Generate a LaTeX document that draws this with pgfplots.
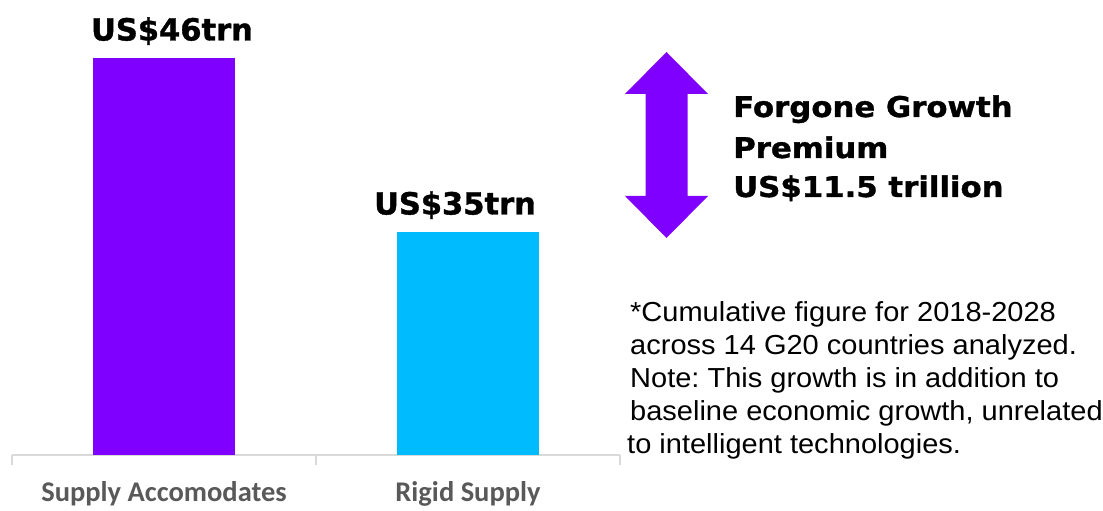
\documentclass[border=0pt]{standalone}
\usepackage{fontspec}
\usepackage{pgfplots}
\pgfplotsset{compat=1.18}
\setmainfont{Liberation Sans}
\newfontfamily\notefont{Liberation Sans}[FakeStretch=1.055]
\newfontfamily\carlito{Carlito}
\newfontfamily\blk{DejaVu Sans}[FakeBold=1.2]
\newfontfamily\blkwide{DejaVu Sans}[FakeStretch=1.08, FakeBold=1.2]
\definecolor{barpurple}{HTML}{7F00FF}
\definecolor{barblue}{HTML}{00BCFF}
\definecolor{axgray}{HTML}{D9D9D9}
\definecolor{lblgray}{HTML}{595959}
\frenchspacing
\begin{document}
\begin{tikzpicture}
\useasboundingbox (0,0) rectangle (1103bp,511bp);
\begin{axis}[
  at={(12bp,56bp)}, anchor=south west,
  scale only axis, width=608bp, height=397bp,
  xmin=-0.5, xmax=1.5, ymin=20.9, ymax=46,
  axis x line=bottom, axis y line=none,
  axis line style={-, axgray, line width=2bp},
  xtick={0,1}, xticklabels={Supply Accomodates, Rigid Supply},
  minor xtick={-0.5,0.5,1.5},
  major tick length=0pt, minor tick length=10bp, tick align=outside,
  minor tick style={axgray, line width=2bp},
  xticklabel style={font=\carlito\bfseries\fontsize{28.5bp}{30bp}\selectfont, text=lblgray, anchor=base, yshift=-46bp},
  ybar, bar width=142bp, bar shift=0pt,
  nodes near coords, point meta=explicit symbolic,
  nodes near coords style={font=\blk\bfseries\fontsize{30.5bp}{33bp}\selectfont, anchor=base, yshift=17.5bp, inner sep=0pt, text=black},
]
\addplot[fill=barpurple, draw=none, nodes near coords style={xshift=8bp}] coordinates {(0,46) [US\$46trn]};
\addplot[fill=barblue, draw=none, nodes near coords style={xshift=-13bp}] coordinates {(1,35) [US\$35trn]};
\end{axis}
\fill[barpurple] (666.5bp,459bp) -- (708bp,417bp) -- (687.5bp,417bp) -- (687.5bp,315bp) -- (708bp,315bp) -- (666.5bp,273bp) -- (625bp,315bp) -- (645.5bp,315bp) -- (645.5bp,417bp) -- (625bp,417bp) -- cycle;
\begin{scope}[every node/.style={anchor=base west, inner sep=0pt, font=\blkwide\bfseries\fontsize{28.5bp}{40bp}\selectfont}]
\node at (733bp,394bp) {Forgone Growth};
\node at (733bp,353bp) {Premium};
\node at (733bp,314bp) {US\$11.5 trillion};
\end{scope}
\begin{scope}[every node/.style={anchor=base west, inner sep=0pt, font=\notefont\fontsize{27.5bp}{33bp}\selectfont}]
\node at (630bp,189bp) {*Cumulative figure for 2018-2028};
\node at (630bp,156bp) {across 14 G20 countries analyzed.};
\node at (630bp,123bp) {Note: This growth is in addition to};
\node at (630bp,90bp) {baseline economic growth, unrelated};
\node at (627bp,57bp) {to intelligent technologies.};
\end{scope}
\end{tikzpicture}
\end{document}
